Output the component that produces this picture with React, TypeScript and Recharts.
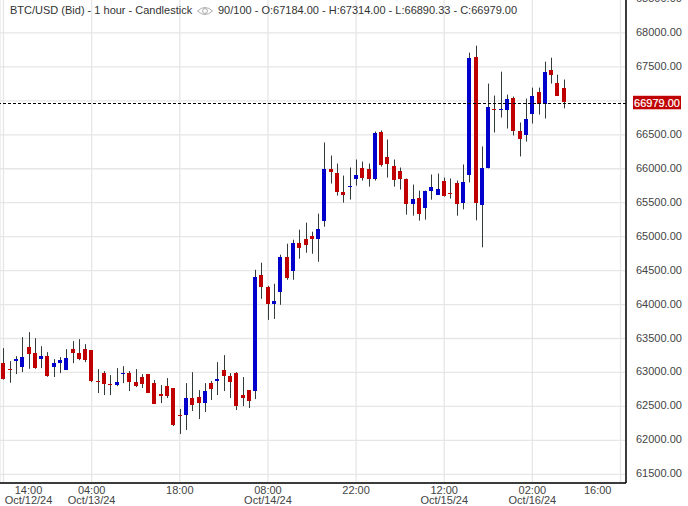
import React from "react";
import {
  ComposedChart,
  Bar,
  XAxis,
  YAxis,
  CartesianGrid,
  ReferenceLine,
} from "recharts";

// one hourly slot per candle, starting Oct/12/24 14:00
const opens = [
  63137, 63046, 63172, 63079, 63373, 63284, 63196, 63240, 63079, 63137,
  63035, 63343, 63284, 63343, 63328, 62872, 62990, 62828, 62814, 62980,
  62990, 62858, 62932, 62976, 62843, 62682, 62799, 62770, 62373, 62373,
  62623, 62638, 62549, 62843, 62873, 63035, 62946, 62990, 62667, 62740,
  62726, 64439, 64261, 64010, 64188, 64704, 64498, 64911, 64970, 65014,
  64970, 65236, 66003, 65944, 65664, 65742, 65856, 66018, 66003, 65856,
  66534, 66180, 66047, 65974, 65856, 65486, 65575, 65427, 65678, 65619,
  65826, 65649, 65796, 65490, 65902, 67651, 65461, 66005, 66886, 66876,
  66872, 67048, 66563, 66504, 66813, 67136, 66960, 67460, 67269, 67184,
];
const highs = [
  63358, 63167, 63240, 63520, 63593, 63505, 63387, 63299, 63196, 63226,
  63343, 63461, 63490, 63417, 63328, 63049, 63020, 62961, 63064, 63093,
  63020, 63049, 62976, 62976, 62888, 62814, 62917, 62770, 62461, 62843,
  63005, 62740, 62843, 62873, 63152, 63255, 62990, 63005, 62932, 62740,
  64512, 64616, 64276, 64306, 64734, 64896, 64955, 65103, 65206, 65073,
  65339, 66387, 66195, 66077, 65900, 66018, 66136, 66106, 66077, 66549,
  66564, 66431, 66136, 66018, 65856, 65767, 65678, 65678, 65915, 65929,
  65870, 65856, 65826, 66063, 67710, 67813, 66328, 67254, 67078, 67430,
  67092, 67063, 66681, 67034, 67195, 67195, 67577, 67636, 67386, 67314,
];
const lows = [
  62895, 62848, 62976, 63005, 63054, 63054, 63064, 62936, 62932, 62990,
  63035, 63137, 63181, 63152, 62858, 62696, 62667, 62667, 62799, 62843,
  62726, 62785, 62770, 62696, 62535, 62549, 62623, 62211, 62094, 62152,
  62432, 62314, 62417, 62594, 62667, 62726, 62623, 62447, 62505, 62476,
  62608, 64084, 63774, 63789, 63996, 64365, 64365, 64675, 64763, 64748,
  64630, 65147, 65782, 65605, 65501, 65546, 65752, 65826, 65737, 65826,
  66032, 65870, 65737, 65693, 65324, 65309, 65236, 65250, 65545, 65619,
  65590, 65560, 65309, 65402, 65799, 65240, 64843, 66005, 66534, 66754,
  66593, 66490, 66181, 66401, 66666, 66798, 66740, 67254, 67078, 66890,
];
const closes = [
  62902, 63040, 63196, 63226, 63270, 63064, 63240, 62946, 63137, 63181,
  63211, 63284, 63196, 63181, 62873, 62862, 62829, 62818, 62858, 62990,
  62858, 62799, 62829, 62696, 62535, 62652, 62652, 62226, 62363, 62623,
  62520, 62549, 62726, 62755, 62902, 62946, 62858, 62505, 62623, 62579,
  64409, 64261, 64010, 64055, 64704, 64394, 64911, 64837, 64881, 64970,
  65117, 66003, 65959, 65664, 65619, 65752, 65915, 65870, 65856, 66520,
  66062, 66077, 65841, 65856, 65486, 65560, 65339, 65678, 65737, 65708,
  65604, 65639, 65486, 65799, 67636, 65490, 66005, 66916, 66876, 66886,
  67034, 66563, 66431, 66740, 67078, 66960, 67430, 67386, 67078, 66979,
];

const priceTicks = [
  61500, 62000, 62500, 63000, 63500, 64000, 64500, 65000, 65500, 66000, 66500,
  67000, 67500, 68000, 68500,
];
const timeTicks = [0, 14, 28, 42, 56, 70, 84, 98];
const timeLabels = ["14:00", "04:00", "18:00", "08:00", "22:00", "12:00", "02:00", "16:00"];
const dateLabels = ["Oct/12/24", "Oct/13/24", "", "Oct/14/24", "", "Oct/15/24", "Oct/16/24", ""];
const lastPrice = 66979;

const FONT = '"Liberation Sans", Arial, sans-serif';
const UP = "#0000cc";
const DOWN = "#c00000";

const candles = opens.map((open, i) => ({
  idx: i,
  open,
  high: highs[i],
  low: lows[i],
  close: closes[i],
}));

function Candle(props: any) {
  const { x, y, width, height, payload } = props;
  const { open, high, low, close } = payload;
  const perUnit = height / (high - low);
  const cx = Math.floor(x + width / 2) + 0.5;
  const top = Math.round(y + (high - Math.max(open, close)) * perUnit);
  const bottom = Math.round(y + (high - Math.min(open, close)) * perUnit);
  return (
    <g>
      <line x1={cx} x2={cx} y1={y} y2={y + height} stroke="#333a3a" strokeWidth={1} />
      <rect
        x={cx - 2.5}
        y={top}
        width={4}
        height={Math.max(bottom - top, 1)}
        fill={close > open ? UP : DOWN}
      />
    </g>
  );
}

function TimeTick(props: any) {
  const { x, y, payload } = props;
  const n = timeTicks.indexOf(payload.value);
  // end labels get pushed inside the plot
  const cx = Math.min(Math.max(x, 28.5), 597.7);
  return (
    <g fontFamily={FONT} fontSize={11} fill="#444">
      <text x={cx} y={y + 9} textAnchor="middle">
        {timeLabels[n]}
      </text>
      <text x={cx} y={y + 19} textAnchor="middle">
        {dateLabels[n]}
      </text>
    </g>
  );
}

function PriceTick(props: any) {
  const { x, y, payload } = props;
  // the last price tag covers this one
  if (Math.abs(payload.value - lastPrice) < 100) return <g />;
  return (
    <text x={x} y={y + 3} fontFamily={FONT} fontSize={11} fill="#444">
      {payload.value.toFixed(2)}
    </text>
  );
}

// dashed line snapped to a whole pixel row
function PriceLine(props: any) {
  const { x1, x2, y1 } = props;
  return (
    <line
      x1={x1}
      x2={x2}
      y1={Math.round(y1) + 1.5}
      y2={Math.round(y1) + 1.5}
      stroke="#000"
      strokeWidth={1}
      strokeDasharray="3 2"
    />
  );
}

function PriceTag(props: any) {
  const { viewBox } = props;
  const right = viewBox.x + viewBox.width;
  const y = viewBox.y;
  return (
    <g>
      <rect x={right + 7} y={y - 6.5} width={48} height={13.5} fill={DOWN} />
      <text
        x={right + 31}
        y={y + 5}
        textAnchor="middle"
        fontFamily={FONT}
        fontSize={11}
        fill="#fff"
        stroke="#fff"
        strokeWidth={0.2}
      >
        {lastPrice.toFixed(2)}
      </text>
    </g>
  );
}

function Header() {
  const style: React.CSSProperties = {
    position: "absolute",
    top: 4,
    fontFamily: FONT,
    fontSize: 11,
    lineHeight: "13px",
    color: "#333",
    whiteSpace: "nowrap",
  };
  return (
    <>
      <span style={{ ...style, left: 10 }}>BTC/USD (Bid) - 1 hour - Candlestick</span>
      <svg
        width={16}
        height={10}
        viewBox="0 0 16 10"
        style={{ position: "absolute", left: 197, top: 6 }}
      >
        <path d="M0.5 5 Q8 -2 15.5 5 Q8 12 0.5 5 Z" fill="none" stroke="#999" strokeWidth={0.8} />
        <circle cx={8} cy={5} r={2.4} fill="none" stroke="#999" strokeWidth={0.8} />
      </svg>
      <span style={{ ...style, left: 218 }}>
        90/100 - O:67184.00 - H:67314.00 - L:66890.33 - C:66979.00
      </span>
    </>
  );
}

export default function App() {
  return (
    <div style={{ position: "absolute", left: 0, top: 0, width: 688, height: 506, overflow: "hidden", background: "#fff" }}>
      <div style={{ position: "absolute", left: 0, top: -5 }}>
        <ComposedChart
          width={688}
          height={511}
          data={candles}
          margin={{ top: 4, right: 0, bottom: 0, left: 0 }}
        >
          <CartesianGrid stroke="#e6e6e6" strokeWidth={1.3} />
          <XAxis
            dataKey="idx"
            type="number"
            domain={[-0.556, 98.87]}
            ticks={timeTicks}
            tick={<TimeTick />}
            interval={0}
            height={23}
            tickLine={false}
            tickSize={0}
            allowDataOverflow
            axisLine={{ stroke: "#000", strokeWidth: 1.5 }}
          />
          <YAxis
            orientation="right"
            type="number"
            domain={[61372, 68500]}
            ticks={priceTicks}
            width={62}
            tickLine={false}
            tickSize={0}
            tickMargin={10}
            interval={0}
            allowDataOverflow
            tick={<PriceTick />}
            axisLine={{ stroke: "#000", strokeWidth: 1.5 }}
          />
          <Bar
            dataKey={(d: any) => [d.low, d.high]}
            shape={<Candle />}
            barSize={5}
            isAnimationActive={false}
          />
          <ReferenceLine
            y={lastPrice}
            shape={<PriceLine />}
            label={<PriceTag />}
          />
        </ComposedChart>
      </div>
      <Header />
    </div>
  );
}
